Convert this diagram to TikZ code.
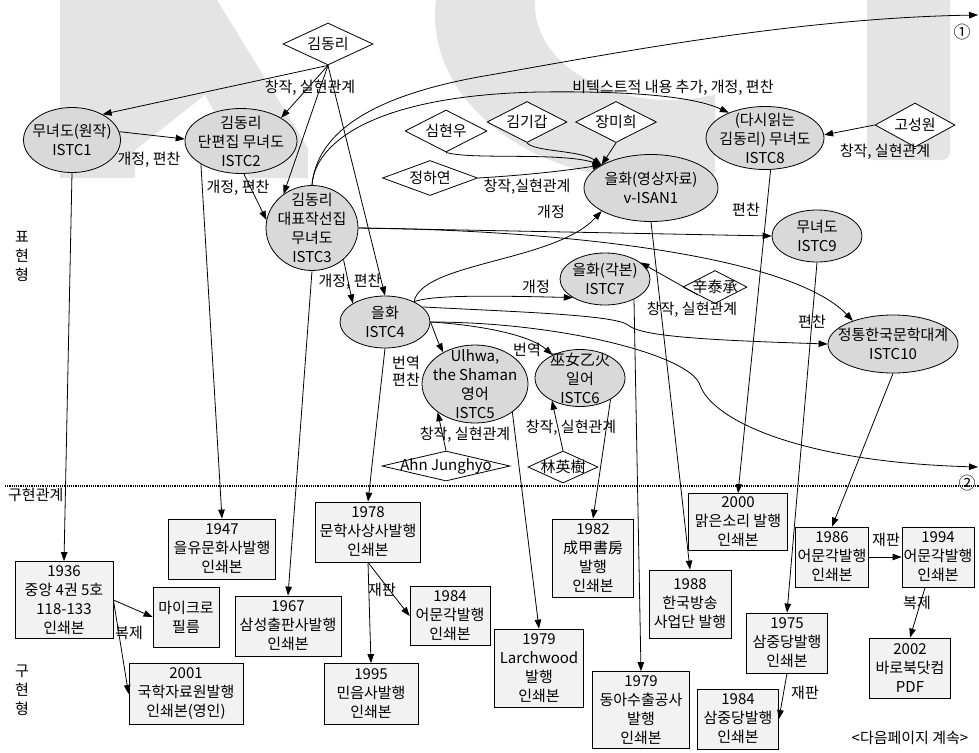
\documentclass[tikz,border=0pt]{standalone}
\usepackage{fontspec}
\setmainfont{Noto Sans CJK KR}
\usetikzlibrary{shapes.geometric,arrows.meta}
\definecolor{ellfill}{HTML}{D9D9D9}
\definecolor{boxfill}{HTML}{F2F2F2}
\definecolor{wmark}{HTML}{E4E4E4}
\begin{document}
\begin{tikzpicture}[x=1pt,y=-1pt,
  every node/.style={font=\fontsize{15}{19}\selectfont},
  ell/.style={ellipse, draw, fill=ellfill, line width=0.8pt, inner sep=0pt},
  box/.style={rectangle, draw, fill=boxfill, line width=0.8pt, inner sep=0pt},
  dia/.style={diamond, draw, fill=white, line width=0.8pt, inner sep=0pt},
  txt/.style={align=center, inner sep=0pt},
  lbl/.style={inner sep=0pt},
  arr/.style={-{Triangle[length=9pt,width=6.5pt]}, line width=0.8pt},
  ln/.style={line width=0.8pt}]
\useasboundingbox (0,0) rectangle (979,752);
% watermark
\fill[wmark] (60,0) -- (217,0) -- (308,148) -- (308,178) -- (250,178) -- (205,95) -- (135,150) -- (135,178) -- (60,178) -- cycle;
\begin{scope}
\clip (400,0) rectangle (715,200);
\fill[wmark, even odd rule] (655,15) ellipse [x radius=220, y radius=165] (670,5) ellipse [x radius=135, y radius=95];
\end{scope}
\fill[wmark, rounded corners=8pt] (867,-10) rectangle (950,160);

% diamonds
\node[dia, minimum width=90, minimum height=42] (kdr) at (328,44) {};
\node[dia, minimum width=82, minimum height=42] (shw) at (446,131) {};
\node[dia, minimum width=80, minimum height=41] (kkg) at (527,122) {};
\node[dia, minimum width=81, minimum height=41] (jmh) at (616,122) {};
\node[dia, minimum width=95, minimum height=35] (jhy) at (430,178) {};
\node[dia, minimum width=80, minimum height=44] (ksw) at (915,125) {};
\node[dia, minimum width=64, minimum height=33] (sts) at (715,287) {};
\node[dia, minimum width=128, minimum height=30] (ahn) at (446,466) {};
\node[dia, minimum width=70, minimum height=32] (lys) at (563,467) {};
% ellipses
\node[ell, minimum width=97, minimum height=65] (istc1) at (72,140) {};
\node[ell, minimum width=112, minimum height=65] (istc2) at (241,141) {};
\node[ell, minimum width=92, minimum height=85] (istc3) at (312,228) {};
\node[ell, minimum width=90, minimum height=52] (istc4) at (385,322) {};
\node[ell, minimum width=106, minimum height=78] (istc5) at (475,384) {};
\node[ell, minimum width=90, minimum height=57] (istc6) at (580,378) {};
\node[ell, minimum width=90, minimum height=52] (istc7) at (605,279) {};
\node[ell, minimum width=134, minimum height=67] (visan) at (651,188) {};
\node[ell, minimum width=118, minimum height=63] (istc8) at (765,138) {};
\node[ell, minimum width=90, minimum height=52] (istc9) at (817,236) {};
\node[ell, minimum width=130, minimum height=58] (istc10) at (893,344) {};
% boxes
\node[box, minimum width=98, minimum height=77] (b1936) at (64,600) {};
\node[box, minimum width=66, minimum height=60] (micro) at (186,617) {};
\node[box, minimum width=114, minimum height=61] (b2001) at (186,694) {};
\node[box, minimum width=107, minimum height=60] (b1947) at (222,549) {};
\node[box, minimum width=106, minimum height=60] (b1967) at (288,626) {};
\node[box, minimum width=105, minimum height=60] (b1978) at (368,532) {};
\node[box, minimum width=80, minimum height=59] (b1984a) at (450,616) {};
\node[box, minimum width=94, minimum height=61] (b1995) at (371,694) {};
\node[box, minimum width=89, minimum height=78] (larch) at (539,668) {};
\node[box, minimum width=81, minimum height=78] (b1982) at (593,558) {};
\node[box, minimum width=97, minimum height=77] (dong) at (641,710) {};
\node[box, minimum width=99, minimum height=57] (b2000) at (738,522) {};
\node[box, minimum width=82, minimum height=68] (b1988) at (690,604) {};
\node[box, minimum width=81, minimum height=60] (b1975) at (787,643) {};
\node[box, minimum width=81, minimum height=60] (b1984b) at (738,719) {};
\node[box, minimum width=73, minimum height=60] (b1986) at (832,557) {};
\node[box, minimum width=72, minimum height=60] (b1994) at (938,557) {};
\node[box, minimum width=81, minimum height=60] (b2002) at (910,668) {};

\coordinate (c1) at (978,15);
\coordinate (c2) at (978,467);

% dotted separator
\coordinate (sepL) at (5,486);
\coordinate (sepR) at (979,486);
\draw[line width=1.2pt, densely dotted] (sepL) -- (sepR);

% edges
\draw[arr] (kdr.south) -- (istc1.40);
\draw[arr] (kdr.south) -- (istc2.30);
\draw[arr] (kdr.south) -- (istc3.130);
\draw[arr] (kdr.south) -- (istc4.north);
\draw[arr] (istc1.10) -- (istc2.178);
\draw[arr] (istc2.-85) -- (istc3.170);
\draw[arr] (istc3.-45) -- (istc4.150);
\draw[arr] (istc1.south) -- (b1936.north);
\draw[arr] (istc2.210) -- (b1947.north);
\draw[arr] (istc3.south) -- (b1967.north);
\draw[arr] (istc4.south) -- (b1978.north);
\draw[arr] (b1936.east) -- (micro.west);
\draw[arr] (b1936.east) -- (b2001.west);
\draw[arr] (b1978.south) -- (b1984a.west);
\draw[arr] (b1978.south) -- (b1995.north);
\draw[arr] (istc3.north) .. controls (315,140) and (380,95) .. (540,92) .. controls (620,91) and (690,95) .. (istc8.145);
\draw[arr] (istc3.north) .. controls (318,120) and (400,90) .. (490,75) .. controls (620,52) and (800,18) .. (c1);
\draw[arr] (istc3.east) -- (istc9.west);
\draw[arr] (istc3.east) .. controls (560,230) and (790,255) .. (istc10.150);
\draw[arr] (istc8.-80) -- (b2000.north);
\draw[arr] (ksw.west) -- (istc8.3);
\draw[arr] (shw.south) .. controls (470,160) and (560,152) .. (visan.155);
\draw[arr] (kkg.south) .. controls (535,152) and (580,150) .. (visan.155);
\draw[arr] (jmh.south) -- (visan.155);
\draw[arr] (jhy.east) .. controls (530,175) and (570,170) .. (visan.155);
\draw[arr] (istc4.35) .. controls (422,262) and (555,262) .. (visan.205);
\draw[arr] (istc4.35) .. controls (430,296) and (470,295) .. (istc7.210);
\draw[arr] (istc4.22) .. controls (520,312) and (615,315) .. (628,325) .. controls (640,336) and (700,340) .. (istc10.west);
\draw[arr] (istc4.east) .. controls (560,322) and (690,355) .. (700,385) .. controls (712,420) and (800,462) .. (c2);
\draw[arr] (istc4.east) .. controls (434,330) and (437,340) .. (istc5.135);
\draw[arr] (istc4.east) .. controls (480,325) and (530,335) .. (istc6.140);
\draw[arr] (ahn.north) -- (istc5.217);
\draw[arr] (lys.north) -- (istc6.219);
\draw[arr] (sts.205) -- (istc7.25);
\draw[arr] (istc5.-37) -- (larch.north);
\draw[arr] (istc6.-35) -- (b1982.north);
\draw[arr] (istc7.-35) -- (dong.north);
\draw[arr] (visan.south) -- (b1988.north);
\draw[arr] (istc9.south) -- (b1975.north);
\draw[arr] (istc10.south) -- (b1986.north);
\draw[arr] (b1986.east) -- (b1994.west);
\draw[arr] (b1994.-113) -- (b2002.north);
\draw[arr] (b1975.south) -- (b1984b.east);

% texts in shapes
\node[txt] (t-kdr) at (kdr) {김동리};
\node[txt] (t-shw) at (shw) {심현우};
\node[txt] (t-kkg) at (kkg) {김기갑};
\node[txt] (t-jmh) at (jmh) {장미희};
\node[txt] (t-jhy) at (jhy) {정하연};
\node[txt] (t-ksw) at (ksw) {고성원};
\node[txt] (t-sts) at (sts) {辛泰承};
\node[txt] (t-ahn) at (ahn) {Ahn Junghyo};
\node[txt] (t-lys) at (lys) {林英樹};
\node[txt] (t-istc1) at (istc1) {무녀도(원작)\\ISTC1};
\node[txt] (t-istc2) at (istc2) {김동리\\단편집 무녀도\\ISTC2};
\node[txt] (t-istc3) at (istc3) {김동리\\대표작선집\\무녀도\\ISTC3};
\node[txt] (t-istc4) at (istc4) {을화\\ISTC4};
\node[txt] (t-istc5) at (istc5) {Ulhwa,\\the Shaman\\영어\\ISTC5};
\node[txt] (t-istc6) at (istc6) {巫女乙火\\일어\\ISTC6};
\node[txt] (t-istc7) at (istc7) {을화(각본)\\ISTC7};
\node[txt] (t-visan) at (visan) {을화(영상자료)\\v-ISAN1};
\node[txt] (t-istc8) at (istc8) {(다시읽는\\김동리) 무녀도\\ISTC8};
\node[txt] (t-istc9) at (istc9) {무녀도\\ISTC9};
\node[txt] (t-istc10) at (istc10) {정통한국문학대계\\ISTC10};
\node[txt] (t-b1936) at (b1936) {1936\\중앙 4권 5호\\118-133\\인쇄본};
\node[txt] (t-micro) at (micro) {마이크로\\필름};
\node[txt] (t-b2001) at (b2001) {2001\\국학자료원발행\\인쇄본(영인)};
\node[txt] (t-b1947) at (b1947) {1947\\을유문화사발행\\인쇄본};
\node[txt] (t-b1967) at (b1967) {1967\\삼성출판사발행\\인쇄본};
\node[txt] (t-b1978) at (b1978) {1978\\문학사상사발행\\인쇄본};
\node[txt] (t-b1984a) at (b1984a) {1984\\어문각발행\\인쇄본};
\node[txt] (t-b1995) at (b1995) {1995\\민음사발행\\인쇄본};
\node[txt] (t-larch) at (larch) {1979\\Larchwood\\발행\\인쇄본};
\node[txt] (t-b1982) at (b1982) {1982\\成甲書房\\발행\\인쇄본};
\node[txt] (t-dong) at (dong) {1979\\동아수출공사\\발행\\인쇄본};
\node[txt] (t-b2000) at (b2000) {2000\\맑은소리 발행\\인쇄본};
\node[txt] (t-b1988) at (b1988) {1988\\한국방송\\사업단 발행};
\node[txt] (t-b1975) at (b1975) {1975\\삼중당발행\\인쇄본};
\node[txt] (t-b1984b) at (b1984b) {1984\\삼중당발행\\인쇄본};
\node[txt] (t-b1986) at (b1986) {1986\\어문각발행\\인쇄본};
\node[txt] (t-b1994) at (b1994) {1994\\어문각발행\\인쇄본};
\node[txt] (t-b2002) at (b2002) {2002\\바로북닷컴\\PDF};

% edge labels
\node[lbl] (l1) at (310,88) {창작, 실현관계};
\node[lbl] (l2) at (149,160) {개정, 편찬};
\node[lbl] (l3) at (238,188) {개정, 편찬};
\node[lbl] (l4) at (350,282) {개정, 편찬};
\node[lbl] (l5) at (673,88) {비텍스트적 내용 추가, 개정, 편찬};
\node[lbl] (l6) at (527,187) {창작,실현관계};
\node[lbl] (l7) at (551,212) {개정};
\node[lbl] (l8) at (885,152) {창작, 실현관계};
\node[lbl] (l9) at (746,210) {편찬};
\node[lbl] (l10) at (536,287) {개정};
\node[lbl] (l11) at (692,310) {창작, 실현관계};
\node[lbl] (l12) at (812,322) {편찬};
\node[lbl, align=center, font=\fontsize{15}{17}\selectfont] (l13) at (406,371) {번역\\편찬};
\node[lbl] (l14) at (527,350) {번역};
\node[lbl] (l15) at (465,435) {창작, 실현관계};
\node[lbl] (l16) at (571,428) {창작, 실현관계};
\node[lbl] (l17) at (129,633) {복제};
\node[lbl] (l18) at (382,590) {재판};
\node[lbl] (l19) at (886,540) {재판};
\node[lbl] (l20) at (917,603) {복제};
\node[lbl] (l21) at (805,693) {재판};

% side texts
\node[txt] (pyo) at (22,256) {표\\현\\형};
\node[txt] (guh) at (22,690) {구\\현\\형};
\node[lbl, anchor=west] (gurel) at (8,495) {구현관계};
\node[lbl, font=\fontsize{17}{19}\selectfont] (one) at (962,32) {①};
\node[lbl, font=\fontsize{17}{19}\selectfont] (two) at (967,483) {②};
\node[lbl] (cont) at (910,738) {<다음페이지 계속>};
\end{tikzpicture}
\end{document}
